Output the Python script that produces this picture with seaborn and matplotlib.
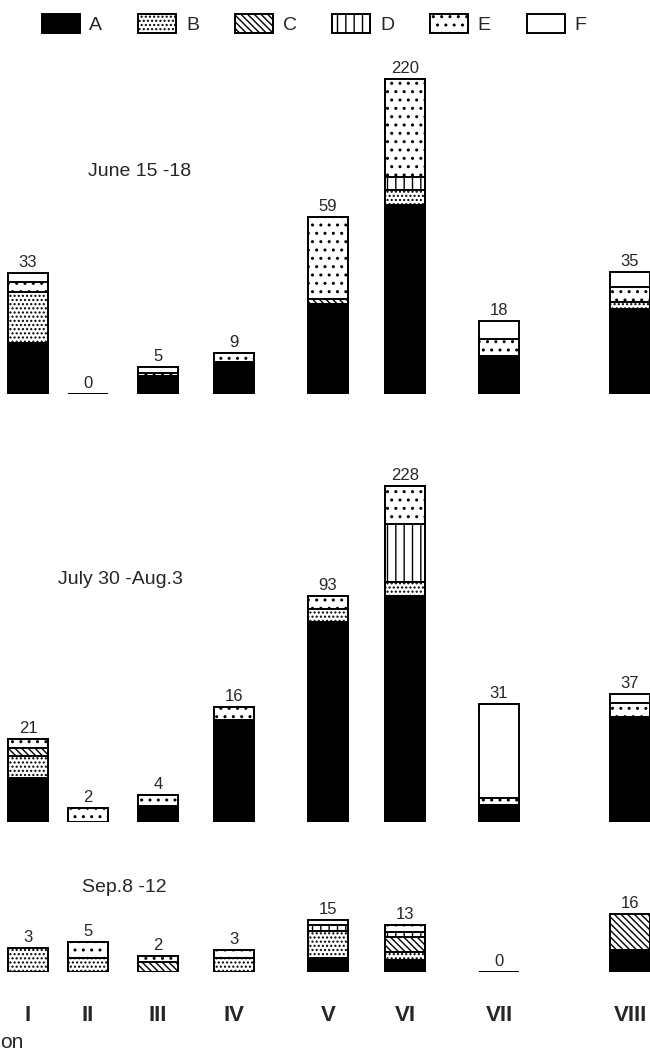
import matplotlib
matplotlib.use("Agg")
import matplotlib.patches as mpatches
import matplotlib.pyplot as plt
import numpy as np
import pandas as pd
import seaborn as sns

# ── Data ───────────────────────────────────────────────────────────────────────
STATIONS = ["I", "II", "III", "IV", "V", "VI", "VII", "VIII"]
GROUPS = ["A", "B", "C", "D", "E", "F"]

# numbers printed above the bars
JUNE_COUNTS = [33, 0, 5, 9, 59, 220, 18, 35]
JULY_COUNTS = [21, 2, 4, 16, 93, 228, 31, 37]
SEP_COUNTS = [3, 5, 2, 3, 15, 13, 0, 16]

# segment heights (relative units), stacked A at the bottom
JUNE_A = [51, 0, 18, 32, 90, 189, 38, 85]
JUNE_B = [51, 0, 0, 0, 0, 15, 0, 7]
JUNE_C = [0, 0, 0, 0, 5, 0, 0, 0]
JUNE_D = [0, 0, 0, 0, 0, 13, 0, 0]
JUNE_E = [10, 0, 3, 9, 82, 98, 17, 15]
JUNE_F = [9, 0, 6, 0, 0, 0, 18, 15]

JULY_A = [44, 0, 16, 102, 200, 226, 17, 105]
JULY_B = [22, 0, 0, 0, 13, 14, 0, 0]
JULY_C = [8, 0, 0, 0, 0, 0, 0, 0]
JULY_D = [0, 0, 0, 0, 0, 58, 0, 0]
JULY_E = [9, 14, 11, 13, 13, 38, 7, 14]
JULY_F = [0, 0, 0, 0, 0, 0, 94, 9]

SEP_A = [0, 0, 0, 0, 14, 12, 0, 22]
SEP_B = [24, 14, 0, 14, 27, 8, 0, 0]
SEP_C = [0, 0, 10, 0, 0, 15, 0, 36]
SEP_D = [0, 0, 0, 0, 6, 5, 0, 0]
SEP_E = [0, 16, 6, 8, 0, 7, 0, 0]
SEP_F = [0, 0, 0, 0, 5, 0, 0, 0]

# ── Layout / style ─────────────────────────────────────────────────────────────
W, H = 650, 1050
STATION_X = [28, 88, 158, 234, 328, 405, 499, 630]   # station positions (px)
BAR_W = 40
STYLE = {
    "A": dict(color="black", hatch=None),
    "B": dict(color="white", hatch="...."),
    "C": dict(color="white", hatch="\\\\\\\\\\"),
    "D": dict(color="white", hatch="||"),
    "E": dict(color="white", hatch=".."),
    "F": dict(color="white", hatch=None),
}
LW = 1.4
TEXT_FONT = ["Liberation Sans", "DejaVu Sans"]
NARROW_FONT = ["Liberation Sans Narrow", "Liberation Sans", "DejaVu Sans"]

sns.set_theme(style="white")
plt.rcParams["font.family"] = TEXT_FONT
plt.rcParams["hatch.linewidth"] = 1.0

fig = plt.figure(figsize=(W / 100, H / 100), dpi=100)


def px_axes(top, bottom):
    """Axes spanning full width, between two pixel rows; 1 y-unit = 1 px."""
    ax = fig.add_axes([0, 1 - bottom / H, 1, (bottom - top) / H])
    ax.set_xlim(0, W)
    ax.set_ylim(0, bottom - top)
    for s in ax.spines.values():
        s.set_visible(False)
    ax.set_yticks([])
    ax.set_facecolor("none")
    return ax


def draw_panel(ax, segments, counts):
    cum = np.cumsum(np.array(segments), axis=0)
    gap = np.min(np.diff(STATION_X))
    for i in reversed(range(len(GROUPS))):
        df = pd.DataFrame({"x": STATION_X, "height": cum[i]})
        st = STYLE[GROUPS[i]]
        sns.barplot(
            data=df, x="x", y="height", native_scale=True, orient="x",
            width=BAR_W / gap, color=st["color"], saturation=1,
            edgecolor="black", linewidth=LW, hatch=st["hatch"],
            errorbar=None, ax=ax,
        )
        if i == len(GROUPS) - 1:
            ax.bar_label(ax.containers[-1], labels=[str(c) for c in counts],
                         padding=2, fontsize=12, family=NARROW_FONT)
    ax.set_xlim(0, W)
    ax.set_xlabel("")
    ax.set_ylabel("")


panels = [
    ("June 15 -18", JUNE_COUNTS, [JUNE_A, JUNE_B, JUNE_C, JUNE_D, JUNE_E, JUNE_F],
     (45, 394), (88, 172)),
    ("July 30 -Aug.3", JULY_COUNTS, [JULY_A, JULY_B, JULY_C, JULY_D, JULY_E, JULY_F],
     (440, 822), (58, 580)),
    ("Sep.8 -12", SEP_COUNTS, [SEP_A, SEP_B, SEP_C, SEP_D, SEP_E, SEP_F],
     (900, 972), (82, 888)),
]

for k, (title, counts, segs, (top, bottom), (tx, ty)) in enumerate(panels):
    ax = px_axes(top, bottom)
    draw_panel(ax, segs, counts)
    if k == len(panels) - 1:
        ax.set_xticks(STATION_X, STATIONS)
        ax.tick_params(axis="x", length=0, pad=24)
        for lab in ax.get_xticklabels():
            lab.set_fontweight("bold")
            lab.set_fontsize(16)
            lab.set_family(NARROW_FONT)
    else:
        ax.set_xticks([])
    fig.text(tx / W, 1 - ty / H, title, fontsize=14, ha="left", va="center")

# legend
handles = [mpatches.Patch(facecolor=STYLE[g]["color"], edgecolor="black",
                          hatch=STYLE[g]["hatch"], linewidth=LW) for g in GROUPS]
fig.legend(handles, GROUPS, loc="center", bbox_to_anchor=(314 / W, 1 - 24 / H),
           ncol=6, frameon=False, fontsize=14, handlelength=1.95,
           handleheight=1.13, handletextpad=0.5, columnspacing=1.85)

fig.text(0, 1 - 1042 / H, "on", fontsize=15, ha="left", va="center")

fig.savefig("out.png", dpi=100)
